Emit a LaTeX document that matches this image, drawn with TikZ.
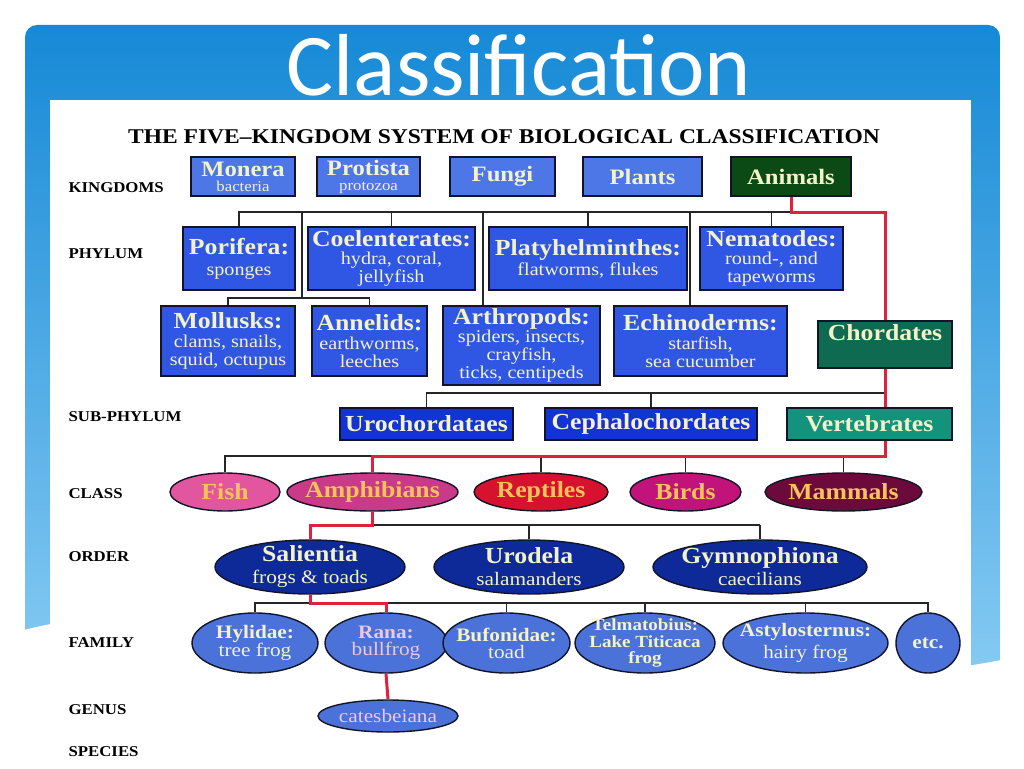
\documentclass[tikz,border=0pt]{standalone}
\usepackage{fontspec}
\setmainfont{Liberation Serif}[FakeStretch=1.12]
\newfontfamily\titlefont{Carlito}
\usetikzlibrary{shapes.geometric}

\definecolor{bannertop}{HTML}{1689D6}
\definecolor{bannerbot}{HTML}{8ACDF4}
\definecolor{kingblue}{HTML}{4D77E6}
\definecolor{phylblue}{HTML}{2F57E4}
\definecolor{subblue}{HTML}{1334D4}
\definecolor{animalgreen}{HTML}{0B4A14}
\definecolor{chordgreen}{HTML}{0E6A50}
\definecolor{vertgreen}{HTML}{13937B}
\definecolor{cream}{HTML}{F4F2C8}
\definecolor{fishpink}{HTML}{E2569F}
\definecolor{amphpink}{HTML}{C93A88}
\definecolor{reptred}{HTML}{D6122F}
\definecolor{birdmag}{HTML}{C2137A}
\definecolor{mammaroon}{HTML}{6C0B3B}
\definecolor{gold}{HTML}{F6C35A}
\definecolor{ordernavy}{HTML}{0D2A98}
\definecolor{famblue}{HTML}{4A72D8}
\definecolor{ranapink}{HTML}{F0C8DC}
\definecolor{redpath}{HTML}{E0203C}
\definecolor{edge}{HTML}{141428}

\newcommand{\hd}{\fontsize{23}{17}\selectfont\bfseries}
\newcommand{\kdesc}{\fontsize{15}{15}\selectfont\mdseries}

\begin{document}
\begin{tikzpicture}[x=1pt, y=-1pt,
  box/.style={rectangle, draw=edge, line width=1.4pt, text=cream, inner sep=1pt, align=center},
  kbox/.style={box, fill=kingblue, minimum height=39pt, font=\fontsize{22}{15}\selectfont\bfseries},
  pbox/.style={box, fill=phylblue, font=\fontsize{18}{18}\selectfont},
  sbox/.style={box, fill=subblue, minimum height=32pt, font=\fontsize{23}{18}\selectfont\bfseries},
  oval/.style={ellipse, draw=edge, line width=1.4pt, inner xsep=-18pt, inner ysep=-12pt, align=center},
  cls/.style={oval, minimum height=38pt, text=gold, font=\fontsize{23}{18}\selectfont\bfseries},
  ord/.style={oval, fill=ordernavy, minimum height=54pt, text=cream, font=\fontsize{19}{22}\selectfont},
  fam/.style={oval, fill=famblue, minimum height=60pt, text=cream, font=\fontsize{19}{17}\selectfont},
  link/.style={draw=black!85, line width=1.6pt},
  redlink/.style={draw=redpath, line width=3pt},
  ranklabel/.style={anchor=west, font=\fontsize{15}{15}\selectfont\bfseries}
]
  \useasboundingbox (0,0) rectangle (1024,768);
  \shade[top color=bannertop, bottom color=bannerbot, rounded corners=12pt] (25,25) rectangle (1000,700);
  \fill[white] (24,630) .. controls (300,560) and (700,720) .. (1001,660) -- (1001,769) -- (24,769) -- cycle;
  \fill[white] (50,100) rectangle (971,768);

  \node[text=white, font=\titlefont\fontsize{88}{88}\selectfont, anchor=base] (title) at (519,95) {Classification};
  \node[font=\fontsize{21}{21}\selectfont\bfseries] (heading) at (504,137) {THE FIVE--KINGDOM SYSTEM OF BIOLOGICAL CLASSIFICATION};

  \node[ranklabel] (lkingdom) at (65,188) {KINGDOMS};
  \node[ranklabel] (lphylum)  at (65,254) {PHYLUM};
  \node[ranklabel] (lsub)     at (65,417) {SUB-PHYLUM};
  \node[ranklabel] (lclass)   at (65,494) {CLASS};
  \node[ranklabel] (lorder)   at (65,557) {ORDER};
  \node[ranklabel] (lfamily)  at (65,643) {FAMILY};
  \node[ranklabel] (lgenus)   at (65,710) {GENUS};
  \node[ranklabel] (lspecies) at (65,752) {SPECIES};

  \node[kbox, minimum width=104pt] (monera)   at (243,176.5) {Monera\\{\kdesc bacteria}};
  \node[kbox, minimum width=103pt] (protista) at (368.5,176.5) {Protista\\{\kdesc protozoa}};
  \node[kbox, minimum width=105pt] (fungi)    at (502.5,176.5) {Fungi};
  \node[kbox, minimum width=119pt] (plants)   at (642.5,176.5) {Plants};
  \node[kbox, fill=animalgreen, minimum width=120pt] (animals) at (791,176.5) {Animals};

  \node[pbox, minimum width=112pt, minimum height=63pt] (porifera) at (239,258.5) {{\hd Porifera:}\\[3pt]sponges};
  \node[pbox, minimum width=167pt, minimum height=63pt] (coel)     at (391.5,258.5) {{\hd Coelenterates:}\\hydra, coral,\\jellyfish};
  \node[pbox, minimum width=198pt, minimum height=63pt] (platy)    at (588,258.5) {{\hd Platyhelminthes:}\\[2pt]flatworms, flukes};
  \node[pbox, minimum width=143pt, minimum height=63pt] (nema)     at (771.5,258.5) {{\hd Nematodes:}\\round-, and\\tapeworms};

  \node[pbox, minimum width=134pt, minimum height=70pt] (mollusk)  at (228,341) {{\hd Mollusks:}\\[1pt]clams, snails,\\squid, octupus};
  \node[pbox, minimum width=115pt, minimum height=70pt] (annelid)  at (369.5,341) {{\hd Annelids:}\\[1pt]earthworms,\\leeches};
  \node[pbox, minimum width=157pt, minimum height=79pt] (arthro)   at (521.5,345.5) {{\hd Arthropods:}\\spiders, insects,\\crayfish,\\ticks, centipeds};
  \node[pbox, minimum width=173pt, minimum height=70pt] (echino)   at (700.5,341) {{\hd Echinoderms:}\\[1pt]starfish,\\sea cucumber};
  \node[box, fill=chordgreen, minimum width=134pt, minimum height=47pt, text height=15pt, text depth=24pt, font=\fontsize{23}{18}\selectfont\bfseries] (chordates) at (885,344.5) {Chordates};

  \node[sbox, minimum width=173pt] (uro)     at (426.5,424) {Urochordataes};
  \node[sbox, minimum width=212pt] (cephalo) at (651,424) {Cephalochordates};
  \node[sbox, fill=vertgreen, minimum width=165pt] (verte) at (869.5,424) {Vertebrates};

  \node[cls, fill=fishpink,  minimum width=110pt] (fish)    at (225,492) {Fish};
  \node[cls, fill=amphpink,  minimum width=171pt] (amphib)  at (372.5,492) {Amphibians};
  \node[cls, fill=reptred,   minimum width=134pt] (reptile) at (541,492) {Reptiles};
  \node[cls, fill=birdmag,   minimum width=111pt] (birds)   at (685.5,492) {Birds};
  \node[cls, fill=mammaroon, minimum width=157pt] (mammals) at (843.5,492) {Mammals};

  \node[ord, minimum width=190pt] (salientia) at (310,567) {{\hd Salientia}\\frogs \& toads};
  \node[ord, minimum width=190pt] (urodela)   at (529,567) {{\hd Urodela}\\salamanders};
  \node[ord, minimum width=214pt] (gymno)     at (760,567) {{\hd Gymnophiona}\\caecilians};

  \node[fam, minimum width=126pt] (hylidae) at (255,643) {{\bfseries Hylidae:}\\tree frog};
  \node[fam, minimum width=122pt, text=ranapink] (rana) at (386,643) {{\bfseries Rana:}\\bullfrog};
  \node[fam, minimum width=127pt] (bufo)    at (506.5,643) {{\bfseries Bufonidae:}\\toad};
  \node[fam, minimum width=140pt, font=\fontsize{17}{16.5}\selectfont\bfseries] (telma) at (645,643) {Telmatobius:\\Lake Titicaca\\frog};
  \node[fam, minimum width=165pt] (astylo)  at (805.5,643) {{\bfseries Astylosternus:}\\[4pt]hairy frog};
  \node[fam, minimum width=64pt, font=\fontsize{19}{17}\selectfont\bfseries] (etc) at (928,643) {etc.};

  \node[fam, minimum width=140pt, minimum height=32pt, text=ranapink] (cates) at (388,716) {catesbeiana};

  \coordinate (kbus) at (0,212);
  \coordinate (mbus) at (0,298);
  \coordinate (sbus) at (0,393);
  \coordinate (cbus) at (0,456);
  \coordinate (obus) at (0,525);
  \coordinate (fbus) at (0,603);
  \coordinate (mjoin) at (302,212);
  \coordinate (ajoin) at (483,212);
  \coordinate (ejoin) at (690,212);

  \draw[link] (porifera.north) |- (animals.south |- kbus);
  \foreach \n in {coel,platy,nema}
    \draw[link] (\n.north) -- (\n.north |- kbus);
  \draw[link] (mjoin) -- (mjoin |- mbus);
  \draw[link] (mollusk.north) |- (annelid.north |- mbus) -- (annelid.north);
  \draw[link] (ajoin) -- (ajoin |- arthro.north);
  \draw[link] (ejoin) -- (ejoin |- echino.north);
  \draw[link] (uro.north) |- (chordates.south |- sbus);
  \draw[link] (cephalo.north) -- (cephalo.north |- sbus);
  \draw[link] (fish.north) |- (amphib.north |- cbus);
  \foreach \n in {reptile,birds,mammals}
    \draw[link] (\n.north) -- (\n.north |- cbus);
  \draw[link] (salientia.north |- obus) -- (gymno.north |- obus);
  \foreach \n in {urodela,gymno}
    \draw[link] (\n.north) -- (\n.north |- obus);
  \draw[link] (hylidae.north) |- (etc.north |- fbus) -- (etc.north);
  \foreach \n in {bufo,telma,astylo}
    \draw[link] (\n.north) -- (\n.north |- fbus);

  \draw[redlink] (animals.south) -- (animals.south |- kbus) -| (chordates.north);
  \draw[redlink] (chordates.south) -- (chordates.south |- verte.north);
  \draw[redlink] (chordates.south |- verte.south) |- (amphib.north |- cbus) -- (amphib.north);
  \draw[redlink] (amphib.south) |- (salientia.north |- obus) -- (salientia.north);
  \draw[redlink] (salientia.south) |- (rana.north |- fbus) -- (rana.north);
  \draw[redlink] (rana.south) -- (cates.north);
\end{tikzpicture}
\end{document}
